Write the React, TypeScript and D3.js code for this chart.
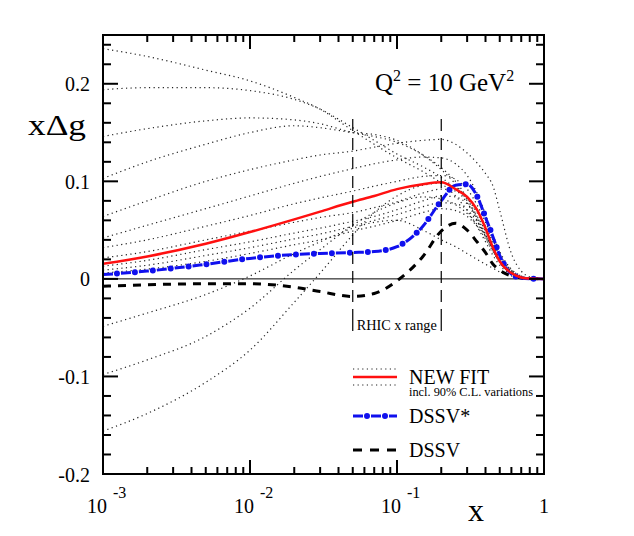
import React from "react"
import * as d3 from "d3"

// sampling points in x shared by every curve
const xGrid = [0.001, 0.002, 0.005, 0.01, 0.02, 0.03, 0.05, 0.07, 0.1, 0.15, 0.2, 0.25, 0.3, 0.35, 0.4, 0.45, 0.5, 0.6, 0.7, 0.8, 1]

const newFit = [0.0154, 0.023, 0.036, 0.048, 0.061, 0.069, 0.079, 0.085, 0.092, 0.097, 0.099, 0.092, 0.084, 0.071, 0.052, 0.032, 0.018, 0.006, 0.0015, 0.0003, 0]
const dssvStar = [0.0044, 0.008, 0.015, 0.021, 0.025, 0.026, 0.027, 0.028, 0.033, 0.054, 0.080, 0.096, 0.097, 0.085, 0.063, 0.043, 0.024, 0.005, 0.001, 0.0002, 0]
const dssv = [-0.0075, -0.006, -0.005, -0.005, -0.0085, -0.013, -0.018, -0.015, -0.002, 0.023, 0.049, 0.057, 0.050, 0.038, 0.027, 0.015, 0.009, 0.003, 0.001, 0.0002, 0]

// 90% C.L. variations of the new fit
const clVariations = [
  [0.236, 0.228, 0.214, 0.203, 0.186, 0.174, 0.152, 0.138, 0.124, 0.110, 0.098, 0.085, 0.070, 0.054, 0.038, 0.024, 0.014, 0.005, 0.0015, 0.0004, 0],
  [0.194, 0.196, 0.196, 0.193, 0.184, 0.174, 0.155, 0.142, 0.128, 0.115, 0.104, 0.092, 0.078, 0.060, 0.043, 0.028, 0.017, 0.006, 0.002, 0.0005, 0],
  [0.146, 0.154, 0.162, 0.165, 0.163, 0.159, 0.150, 0.146, 0.140, 0.127, 0.114, 0.100, 0.083, 0.064, 0.046, 0.030, 0.018, 0.006, 0.002, 0.0005, 0],
  [0.103, 0.120, 0.138, 0.150, 0.157, 0.155, 0.150, 0.148, 0.142, 0.127, 0.112, 0.097, 0.080, 0.062, 0.045, 0.030, 0.018, 0.006, 0.002, 0.0005, 0],
  [0.064, 0.080, 0.100, 0.112, 0.122, 0.127, 0.131, 0.135, 0.139, 0.142, 0.143, 0.138, 0.129, 0.119, 0.108, 0.095, 0.070, 0.026, 0.008, 0.002, 0],
  [0.042, 0.055, 0.072, 0.085, 0.098, 0.105, 0.113, 0.118, 0.122, 0.125, 0.124, 0.118, 0.106, 0.088, 0.066, 0.045, 0.028, 0.010, 0.003, 0.0007, 0],
  [0.032, 0.040, 0.054, 0.065, 0.077, 0.083, 0.090, 0.095, 0.100, 0.105, 0.106, 0.102, 0.092, 0.076, 0.058, 0.040, 0.025, 0.009, 0.003, 0.0006, 0],
  [0.0215, 0.028, 0.040, 0.049, 0.058, 0.063, 0.068, 0.073, 0.079, 0.088, 0.092, 0.090, 0.082, 0.068, 0.052, 0.036, 0.022, 0.008, 0.002, 0.0005, 0],
  [0.013, 0.019, 0.030, 0.038, 0.047, 0.052, 0.059, 0.064, 0.071, 0.080, 0.085, 0.084, 0.077, 0.064, 0.049, 0.034, 0.021, 0.007, 0.002, 0.0005, 0],
  [0.009, 0.014, 0.024, 0.032, 0.041, 0.046, 0.054, 0.060, 0.066, 0.074, 0.078, 0.077, 0.071, 0.059, 0.045, 0.031, 0.019, 0.006, 0.002, 0.0004, 0],
  [0.006, 0.010, 0.018, 0.026, 0.035, 0.040, 0.049, 0.054, 0.060, 0.068, 0.072, 0.070, 0.064, 0.054, 0.041, 0.028, 0.017, 0.006, 0.002, 0.0004, 0],
  [-0.0486, -0.035, -0.016, 0.003, 0.026, 0.038, 0.052, 0.058, 0.060, 0.050, 0.040, 0.033, 0.026, 0.020, 0.015, 0.011, 0.007, 0.003, 0.001, 0.0002, 0],
  [-0.098, -0.083, -0.059, -0.030, 0.009, 0.030, 0.055, 0.068, 0.078, 0.084, 0.082, 0.076, 0.067, 0.056, 0.044, 0.031, 0.019, 0.007, 0.002, 0.0005, 0],
  [-0.156, -0.138, -0.106, -0.073, -0.024, 0.006, 0.045, 0.068, 0.085, 0.096, 0.098, 0.094, 0.084, 0.070, 0.054, 0.038, 0.024, 0.008, 0.002, 0.0005, 0],
]

const rhicRange = [0.05, 0.2]
const yLabels = [-0.2, -0.1, 0, 0.1, 0.2]
const xDecades = [{ v: 0.001, exp: "-3" }, { v: 0.01, exp: "-2" }, { v: 0.1, exp: "-1" }]

const W = 634
const H = 536
const m = { left: 103, right: 544, top: 35, bottom: 474 }
const font = "'Liberation Serif', 'Times New Roman', serif"

const RED = "#ff1010"
const BLUE = "#1010ee"
const DOTS = "1.2 3.4"

export default function App() {
  const x = d3.scaleLog().domain([0.001, 1]).range([m.left, m.right])
  const y = d3.scaleLinear().domain([-0.2, 0.25]).range([m.bottom, m.top])

  const line = d3
    .line<number>()
    .x((_, i) => x(xGrid[i]))
    .y(d => y(d))
    .curve(d3.curveMonotoneX)

  // log x ticks: decades long, 2..9 short
  const xTicks: { v: number; major: boolean }[] = []
  for (const d of [0.001, 0.01, 0.1]) {
    for (let k = 1; k <= 9; k++) xTicks.push({ v: k * d, major: k === 1 })
  }
  xTicks.push({ v: 1, major: true })

  const yTicks = d3.range(-10, 13).map(i => ({ v: i * 0.02, major: i % 5 === 0 }))

  const legX0 = 353
  const legX1 = 397

  return (
    <svg
      width={W}
      height={H}
      style={{ position: "absolute", left: 0, top: 0, background: "#fff" }}
      fontFamily={font}
    >
      <defs>
        <clipPath id="plot">
          <rect x={m.left} y={m.top} width={m.right - m.left} height={m.bottom - m.top} />
        </clipPath>
      </defs>

      <g clipPath="url(#plot)">
        {/* zero line */}
        <line x1={m.left} x2={m.right} y1={y(0)} y2={y(0)} stroke="#000" strokeWidth={1} />

        {clVariations.map((v, i) => (
          <path key={i} d={line(v) || ""} fill="none" stroke="#222" strokeWidth={1.2} strokeDasharray={DOTS} />
        ))}

        <path d={line(dssv) || ""} fill="none" stroke="#000" strokeWidth={3} strokeDasharray="8 7" />

        <path d={line(dssvStar) || ""} fill="none" stroke={BLUE} strokeWidth={3} strokeDasharray="10 8" />
        <path
          d={line(dssvStar) || ""}
          fill="none"
          stroke={BLUE}
          strokeWidth={6}
          strokeLinecap="round"
          strokeDasharray="0 18"
          strokeDashoffset={-14}
        />

        <path d={line(newFit) || ""} fill="none" stroke={RED} strokeWidth={2.5} />
      </g>

      {/* RHIC x range markers */}
      {rhicRange.map(v => (
        <g key={v}>
          <line x1={x(v)} x2={x(v)} y1={119} y2={318} stroke="#000" strokeWidth={1.2} strokeDasharray="12 7" />
          <line x1={x(v)} x2={x(v)} y1={318} y2={331} stroke="#000" strokeWidth={1.2} />
        </g>
      ))}
      <text x={x(rhicRange[0]) + 4} y={330} fontSize={14.5} textLength={80} lengthAdjust="spacingAndGlyphs">
        RHIC x range
      </text>

      {/* frame */}
      <rect
        x={m.left}
        y={m.top}
        width={m.right - m.left}
        height={m.bottom - m.top}
        fill="none"
        stroke="#000"
        strokeWidth={2}
      />

      {xTicks.map((t, i) => {
        const len = t.major ? 14 : 7
        const px = x(t.v)
        return (
          <g key={i} stroke="#000" strokeWidth={2}>
            <line x1={px} x2={px} y1={m.bottom} y2={m.bottom - len} />
            <line x1={px} x2={px} y1={m.top} y2={m.top + len} />
          </g>
        )
      })}
      {yTicks.map((t, i) => {
        const len = t.major ? 15 : 8
        const py = y(t.v)
        return (
          <g key={i} stroke="#000" strokeWidth={2}>
            <line x1={m.left} x2={m.left + len} y1={py} y2={py} />
            <line x1={m.right} x2={m.right - len} y1={py} y2={py} />
          </g>
        )
      })}

      {yLabels.map(v => (
        <text key={v} x={90} y={y(v) + 7.5} fontSize={20} textAnchor="end">
          {v === 0 ? "0" : d3.format(".1f")(v).replace("−", "-")}
        </text>
      ))}

      {xDecades.map(d => (
        <g key={d.v}>
          <text x={x(d.v) + 4} y={513} fontSize={20} textAnchor="end">
            10
          </text>
          <text x={x(d.v) + 10} y={498} fontSize={16}>
            {d.exp}
          </text>
        </g>
      ))}
      <text x={x(1)} y={513} fontSize={20} textAnchor="middle">
        1
      </text>

      {/* axis titles */}
      <text x={28} y={135} fontSize={30} textLength={58} lengthAdjust="spacingAndGlyphs">
        xΔg
      </text>
      <text x={468} y={521} fontSize={32}>
        x
      </text>

      <text x={375} y={91} fontSize={25}>
        Q<tspan dy={-10} fontSize={16}>2</tspan>
        <tspan dy={10}> = 10 GeV</tspan>
        <tspan dy={-10} fontSize={16}>2</tspan>
      </text>

      {/* legend */}
      <g>
        <line x1={legX0} x2={legX1} y1={369} y2={369} stroke="#222" strokeWidth={1.2} strokeDasharray={DOTS} />
        <line x1={legX0} x2={legX1} y1={377} y2={377} stroke={RED} strokeWidth={2.5} />
        <line x1={legX0} x2={legX1} y1={385} y2={385} stroke="#222" strokeWidth={1.2} strokeDasharray={DOTS} />
        <text x={409} y={384} fontSize={20}>
          NEW FIT
        </text>
        <text x={409} y={396} fontSize={11.5} textLength={124} lengthAdjust="spacingAndGlyphs">
          incl. 90% C.L. variations
        </text>

        <line x1={legX0} x2={legX1} y1={416} y2={416} stroke={BLUE} strokeWidth={3} strokeDasharray="10 8" />
        <line
          x1={legX0}
          x2={legX1}
          y1={416}
          y2={416}
          stroke={BLUE}
          strokeWidth={6}
          strokeLinecap="round"
          strokeDasharray="0 18"
          strokeDashoffset={-14}
        />
        <text x={409} y={423} fontSize={20}>
          DSSV*
        </text>

        <line x1={legX0} x2={legX1} y1={450} y2={450} stroke="#000" strokeWidth={3} strokeDasharray="9 8" />
        <text x={409} y={457} fontSize={20}>
          DSSV
        </text>
      </g>
    </svg>
  )
}
